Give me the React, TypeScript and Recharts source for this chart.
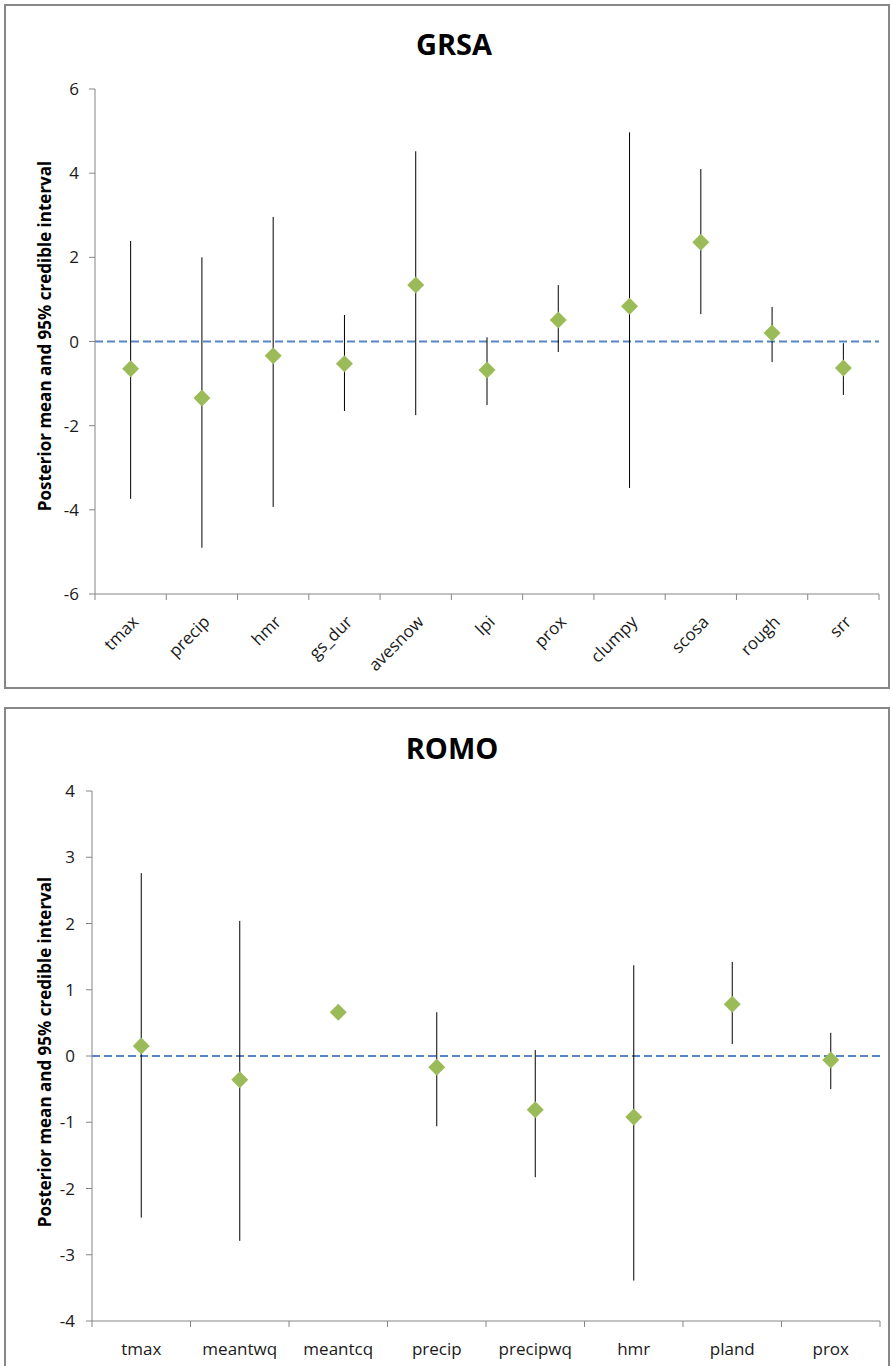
import { ComposedChart, ErrorBar, ReferenceLine, Scatter, XAxis, YAxis } from 'recharts'

// GRSA panel
const grsaVars = ['tmax', 'precip', 'hmr', 'gs_dur', 'avesnow', 'lpi', 'prox', 'clumpy', 'scosa', 'rough', 'srr']
const grsaMean = [-0.65, -1.34, -0.34, -0.53, 1.34, -0.68, 0.51, 0.84, 2.36, 0.2, -0.63]
const grsaLower = [-3.74, -4.9, -3.93, -1.65, -1.75, -1.51, -0.25, -3.48, 0.65, -0.49, -1.27]
const grsaUpper = [2.39, 2.0, 2.96, 0.63, 4.52, 0.1, 1.34, 4.97, 4.1, 0.82, -0.04]
const grsaTicks = [-6, -4, -2, 0, 2, 4, 6]

// ROMO panel
const romoVars = ['tmax', 'meantwq', 'meantcq', 'precip', 'precipwq', 'hmr', 'pland', 'prox']
const romoMean = [0.15, -0.36, 0.66, -0.17, -0.81, -0.92, 0.78, -0.06]
const romoLower = [-2.44, -2.79, 0.66, -1.06, -1.83, -3.39, 0.18, -0.5]
const romoUpper = [2.76, 2.04, 0.66, 0.66, 0.09, 1.37, 1.42, 0.35]
const romoTicks = [-4, -3, -2, -1, 0, 1, 2, 3, 4]

const FONT = '"Open Sans", "DejaVu Sans", sans-serif'
const AXIS = '#868686'
const Y_LABEL = 'Posterior mean and 95% credible interval'

// x is the category slot centre (index + 0.5) on a numeric axis, so the
// tick marks can sit on the slot boundaries like the original
function buildRows(names: string[], mean: number[], lower: number[], upper: number[]) {
  return names.map((name, i) => ({
    name,
    x: i + 0.5,
    mean: mean[i],
    err: [mean[i] - lower[i], upper[i] - mean[i]],
  }))
}

function Diamond(props: any) {
  const { cx, cy } = props
  if (cx == null || cy == null) return null
  const r = 8.5
  return <path d={`M${cx},${cy - r}L${cx + r},${cy}L${cx},${cy + r}L${cx - r},${cy}Z`} fill="#9bbb59" />
}

function makeTick(names: string[], half: number, rotated: boolean) {
  return function CategoryTick(props: any) {
    const { x, y, index } = props
    const label = names[index]
    const ax = x + 9
    const ay = y + 29
    return (
      <g>
        <line x1={x - half} x2={x - half} y1={y} y2={y + 6} stroke={AXIS} />
        {index === names.length - 1 && <line x1={x + half} x2={x + half} y1={y} y2={y + 6} stroke={AXIS} />}
        {rotated ? (
          <text x={ax} y={ay} textAnchor="end" transform={`rotate(-45, ${ax}, ${ay})`} fontSize={17} fontFamily={FONT} fill="#1a1a1a">
            {label}
          </text>
        ) : (
          <text x={x} y={y + 34} textAnchor="middle" fontSize={17} fontFamily={FONT} fill="#1a1a1a">
            {label}
          </text>
        )}
      </g>
    )
  }
}

type PanelProps = {
  title: string
  names: string[]
  mean: number[]
  lower: number[]
  upper: number[]
  ticks: number[]
  top: number
  height: number
  chartHeight: number
  margin: { top: number; right: number; bottom: number; left: number }
  plotWidth: number
  xAxisHeight: number
  rotated: boolean
  titleTop: number
  titleCenter: number
  labelCenter: number
  tickMargin: number
}

function Panel(p: PanelProps) {
  const rows = buildRows(p.names, p.mean, p.lower, p.upper)
  const half = p.plotWidth / p.names.length / 2
  return (
    <div
      style={{
        position: 'absolute',
        left: 4,
        top: p.top,
        width: 886,
        height: p.height,
        boxSizing: 'border-box',
        border: '2px solid #878787',
        background: '#fff',
      }}
    >
      <div
        style={{
          position: 'absolute',
          left: p.titleCenter - 200,
          width: 400,
          top: p.titleTop,
          textAlign: 'center',
          fontFamily: FONT,
          fontWeight: 700,
          fontSize: 29,
          lineHeight: '29px',
          color: '#000',
        }}
      >
        {p.title}
      </div>
      <div
        style={{
          position: 'absolute',
          left: 39,
          top: p.labelCenter,
          transform: 'translate(-50%, -50%) rotate(-90deg)',
          whiteSpace: 'nowrap',
          fontFamily: FONT,
          fontWeight: 700,
          fontSize: 17,
          lineHeight: '20px',
          color: '#000',
        }}
      >
        {Y_LABEL}
      </div>
      <ComposedChart width={882} height={p.chartHeight} data={rows} margin={p.margin}>
        <XAxis
          dataKey="x"
          type="number"
          domain={[0, p.names.length]}
          ticks={rows.map((r) => r.x)}
          height={p.xAxisHeight}
          stroke={AXIS}
          tickLine={false}
          tickSize={0}
          tickMargin={0}
          interval={0}
          tick={makeTick(p.names, half, p.rotated)}
        />
        <YAxis
          type="number"
          domain={[p.ticks[0], p.ticks[p.ticks.length - 1]]}
          ticks={p.ticks}
          width={60}
          stroke={AXIS}
          tickSize={6}
          tickMargin={p.tickMargin}
          tick={{ fontSize: 17, fontFamily: FONT, fill: '#1a1a1a' }}
        />
        <ReferenceLine y={0} stroke="#5585c4" strokeWidth={2} strokeDasharray="8 4" />
        <Scatter dataKey="mean" shape={<Diamond />} isAnimationActive={false}>
          <ErrorBar dataKey="err" direction="y" width={0} stroke="#000" strokeWidth={1} />
        </Scatter>
      </ComposedChart>
    </div>
  )
}

export default function App() {
  return (
    <div style={{ position: 'absolute', left: 0, top: 0, width: 891, height: 1366, overflow: 'hidden', background: '#fff' }}>
      <Panel
        title="GRSA"
        names={grsaVars}
        mean={grsaMean}
        lower={grsaLower}
        upper={grsaUpper}
        ticks={grsaTicks}
        top={4}
        height={685}
        chartHeight={681}
        margin={{ top: 83, right: 9, bottom: 13, left: 29 }}
        plotWidth={784}
        xAxisHeight={80}
        rotated={true}
        titleTop={23}
        titleCenter={448}
        labelCenter={330}
        tickMargin={10}
      />
      <Panel
        title="ROMO"
        names={romoVars}
        mean={romoMean}
        lower={romoLower}
        upper={romoUpper}
        ticks={romoTicks}
        top={707}
        height={700}
        chartHeight={680}
        margin={{ top: 82, right: 8, bottom: 28, left: 26 }}
        plotWidth={788}
        xAxisHeight={40}
        rotated={false}
        titleTop={24}
        titleCenter={446}
        labelCenter={343}
        tickMargin={11}
      />
    </div>
  )
}
